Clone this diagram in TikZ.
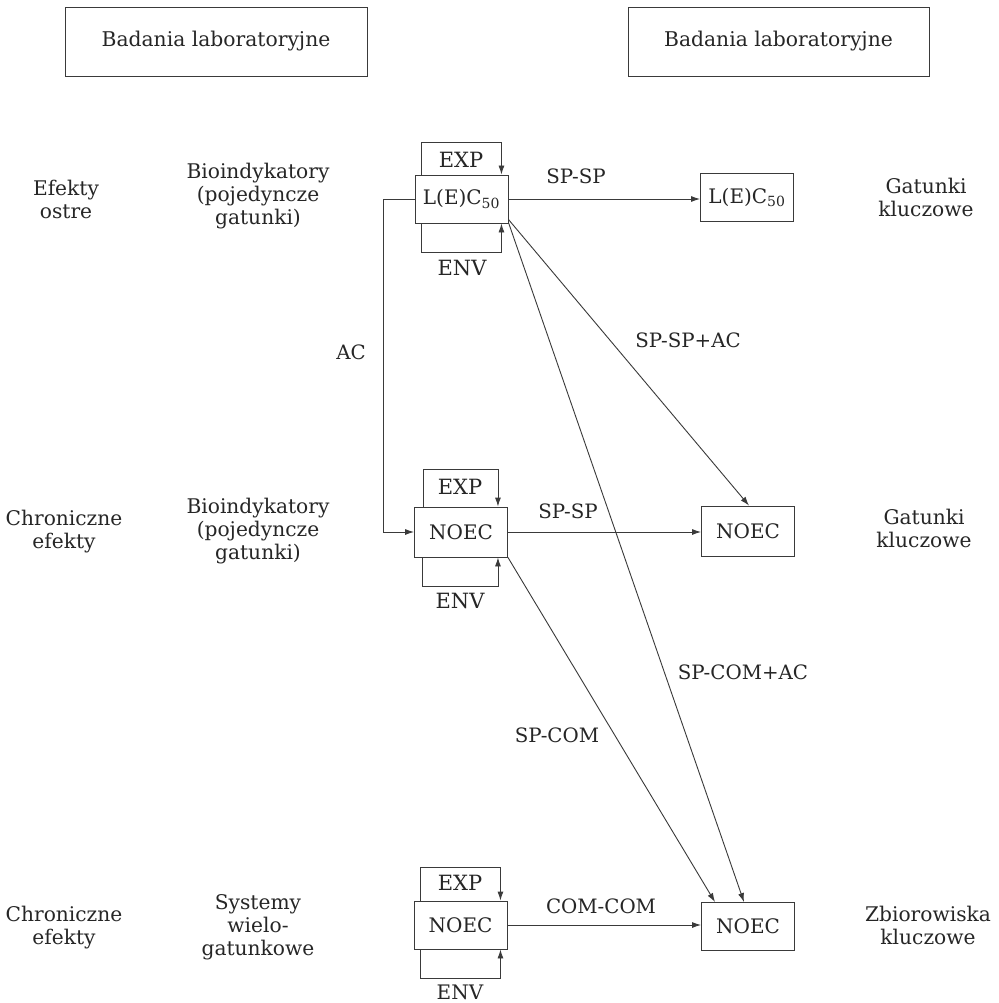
\documentclass[tikz,border=0pt]{standalone}
\usepackage{fontspec}
\setmainfont{DejaVu Serif}
\usetikzlibrary{arrows.meta,calc}
\definecolor{ink}{HTML}{262626}
\definecolor{linec}{HTML}{3A3A3A}
\tikzset{
  every node/.style={text=ink},
  txt/.style={align=center,font=\fontsize{20.2}{23}\selectfont,inner sep=0pt},
  lbl/.style={font=\fontsize{19.8}{22}\selectfont,inner sep=0pt},
  caplbl/.style={font=\fontsize{21}{22}\selectfont,inner sep=0pt},
  topbox/.style={draw=linec,line width=0.9pt,font=\fontsize{20.3}{22}\selectfont,inner sep=0pt},
  valbox/.style={draw=linec,line width=0.9pt,font=\fontsize{20}{22}\selectfont,inner sep=0pt,minimum width=93pt,minimum height=48pt},
  conn/.style={draw=linec,line width=0.9pt},
  arr/.style={conn,-{Latex[length=9pt,width=6pt]}}
}
\begin{document}
\begin{tikzpicture}[x=1pt,y=-1pt]
\useasboundingbox[fill=white] (0,0) rectangle (998,1003);

% top boxes
\node[topbox,minimum width=302pt,minimum height=69pt] (tl) at (216,41.5) {Badania laboratoryjne};
\node[topbox,minimum width=301pt,minimum height=69pt] (tr) at (778.5,41.5) {Badania laboratoryjne};

% side texts
\node[txt] (s1) at (66,199) {Efekty\\ostre};
\node[txt] (b1t) at (258,196) {Bioindykatory\\(pojedyncze\\gatunki)};
\node[txt] (g1) at (926,197) {Gatunki\\kluczowe};
\node[txt] (s2) at (64,532) {Chroniczne\\efekty};
\node[txt] (b2t) at (258,531) {Bioindykatory\\(pojedyncze\\gatunki)};
\node[txt] (g2) at (924,528) {Gatunki\\kluczowe};
\node[txt] (s3) at (64,928) {Chroniczne\\efekty};
\node[txt] (b3t) at (258,927) {Systemy\\wielo-\\gatunkowe};
\node[txt] (g3) at (928,925) {Zbiorowiska\\kluczowe};

% value boxes
\node[valbox] (a1) at (461.5,199) {L(E)C\textsubscript{50}};
\node[valbox] (a2) at (747,197.5) {L(E)C\textsubscript{50}};
\node[valbox,minimum height=50pt] (n1) at (461,532) {NOEC};
\node[valbox,minimum height=50pt] (n2) at (748,531) {NOEC};
\node[valbox] (c1) at (460.5,925) {NOEC};
\node[valbox] (c2) at (748,926.5) {NOEC};

% EXP / ENV loops
\draw[arr] ([xshift=7pt]a1.north west) -- ++(0,-32) -| ([xshift=-7pt]a1.north east);
\draw[arr] ([xshift=7pt]a1.south west) -- ++(0,29) -| ([xshift=-7pt]a1.south east);
\draw[arr] ([xshift=9pt]n1.north west) -- ++(0,-37) -| ([xshift=-10pt]n1.north east);
\draw[arr] ([xshift=8pt]n1.south west) -- ++(0,29) -| ([xshift=-10pt]n1.south east);
\draw[arr] ([xshift=7pt]c1.north west) -- ++(0,-33) -| ([xshift=-7pt]c1.north east);
\draw[arr] ([xshift=7pt]c1.south west) -- ++(0,29) -| ([xshift=-7pt]c1.south east);

\node[caplbl] (exp1) at (461,160) {EXP};
\node[caplbl] (env1) at (462,268) {ENV};
\node[caplbl] (exp2) at (460,487) {EXP};
\node[caplbl] (env2) at (460,601) {ENV};
\node[caplbl] (exp3) at (460,883) {EXP};
\node[caplbl,font=\fontsize{20}{20}\selectfont,anchor=base] (env3) at (460,999) {ENV};

% connectors
\draw[arr] (a1.east) -- (a1.east -| a2.west);
\draw[arr] (a1.west) -- ++(-31,0) |- (n1.west);
\draw[arr] ([yshift=4pt]a1.south east) -- ([xshift=1pt]n2.north);
\draw[arr] ([yshift=1pt]a1.south east) -- ([xshift=-4pt]c2.north);
\draw[arr] (n1.east) -- (n1.east -| n2.west);
\draw[arr] (n1.south east) -- ([xshift=-33pt]c2.north);
\draw[arr] (c1.east) -- (c1.east -| c2.west);

% connector labels
\node[lbl] (l1) at (576,176) {SP-SP};
\node[lbl] (l2) at (351,352) {AC};
\node[lbl] (l3) at (688,340) {SP-SP+AC};
\node[lbl] (l4) at (568,511) {SP-SP};
\node[lbl] (l5) at (743,672) {SP-COM+AC};
\node[lbl] (l6) at (557,735) {SP-COM};
\node[lbl] (l7) at (601,906) {COM-COM};
\end{tikzpicture}
\end{document}
